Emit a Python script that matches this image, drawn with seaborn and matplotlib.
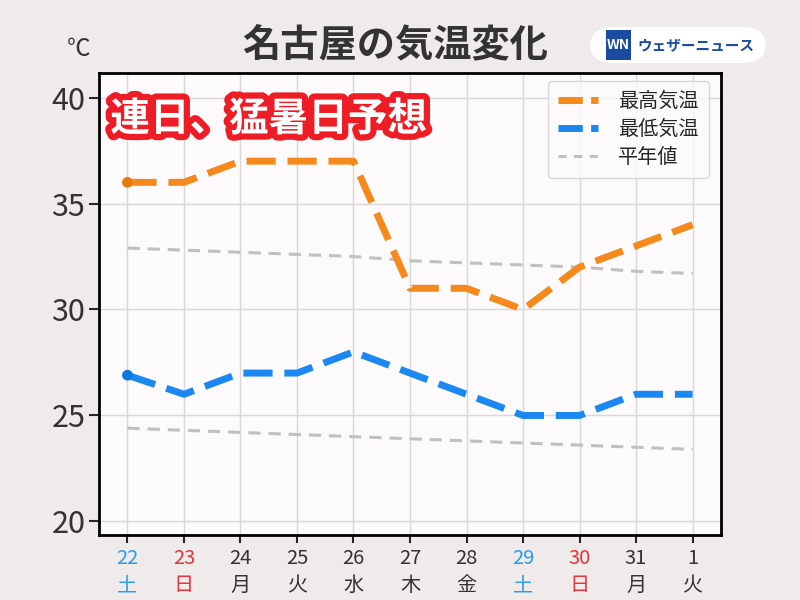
import numpy as np
import pandas as pd
import seaborn as sns
from matplotlib import pyplot as plt
from matplotlib.patches import FancyBboxPatch
from matplotlib.ticker import MultipleLocator
import matplotlib.patheffects as pe

# データ
days = ["22", "23", "24", "25", "26", "27", "28", "29", "30", "31", "1"]
weekdays = ["土", "日", "月", "火", "水", "木", "金", "土", "日", "月", "火"]
max_temp = [36, 36, 37, 37, 37, 31, 31, 30, 32, 33, 34]
min_temp = [26.9, 26, 27, 27, 28, 27, 26, 25, 25, 26, 26]
normal_max = [32.9, 32.8, 32.7, 32.6, 32.5, 32.3, 32.2, 32.1, 32.0, 31.8, 31.7]
normal_min = [24.4, 24.3, 24.2, 24.1, 24.0, 23.9, 23.8, 23.7, 23.6, 23.5, 23.4]

sns.set_style("white")
plt.rcParams['font.family'] = ['Noto Sans CJK JP', 'DejaVu Sans']

df = pd.DataFrame({"pos": np.arange(len(days)), "max": max_temp, "min": min_temp,
                   "nmax": normal_max, "nmin": normal_min})

fig = plt.figure(figsize=(8, 6), dpi=100)
fig.patch.set_facecolor("#eeebea")
ax = fig.add_axes([0.124, 0.108, 0.777, 0.770])
ax.set_facecolor("#fcfafb")

ORANGE = "#f5891c"
BLUE = "#1a88f0"
GRAY = "#c0c0c0"

sns.lineplot(data=df, x="pos", y="nmax", color=GRAY, lw=2.2, ax=ax, label="平年値")
ax.lines[-1].set_dashes((4, 2.6))
sns.lineplot(data=df, x="pos", y="nmin", color=GRAY, lw=2.2, ax=ax)
ax.lines[-1].set_dashes((4, 2.6))
sns.lineplot(data=df, x="pos", y="max", color=ORANGE, lw=5, ax=ax, label="最高気温")
ax.lines[-1].set_dashes((4.2, 1.7))
sns.lineplot(data=df, x="pos", y="min", color=BLUE, lw=5, ax=ax, label="最低気温")
ax.lines[-1].set_dashes((4.2, 1.7))
sns.scatterplot(x=df["pos"][:1], y=df["max"][:1], color="#e67a10", s=60, ax=ax,
                edgecolor="none", zorder=5)
sns.scatterplot(x=df["pos"][:1], y=df["min"][:1], color="#0a78e0", s=60, ax=ax,
                edgecolor="none", zorder=5)

ax.set_xlim(-0.5, 10.5)
ax.set_ylim(19.35, 41.15)
ax.set_xlabel("")
ax.set_ylabel("")
ax.yaxis.set_major_locator(MultipleLocator(5))
ax.yaxis.set_minor_locator(MultipleLocator(1))
ax.set_xticks(df["pos"])
ax.set_xticklabels([d + "\n" + w for d, w in zip(days, weekdays)], linespacing=1.4)
colors = {"土": "#2a9de8", "日": "#e8333a"}
for lbl, w in zip(ax.get_xticklabels(), weekdays):
    lbl.set_color(colors.get(w, "#333333"))
ax.tick_params(axis="x", labelsize=14.5, length=6, width=1.5, direction="out", pad=3)
ax.tick_params(axis="y", which="major", labelsize=22, labelcolor="#333333", length=7,
               width=1.5, direction="out", pad=3)
ax.tick_params(axis="y", which="minor", length=3, width=1, direction="out")
ax.tick_params(left=True, bottom=True)
ax.grid(True, which="major", color="#d8d8d8", lw=1)
for s in ax.spines.values():
    s.set_color("black")
    s.set_linewidth(2)

# 凡例
handles, labels = ax.get_legend_handles_labels()
order = [1, 2, 0]
leg = ax.legend([handles[i] for i in order], [labels[i] for i in order],
                loc="upper right", fontsize=14.5, handlelength=2.0, frameon=True,
                borderpad=0.5, labelspacing=0.35, handletextpad=1.0,
                bbox_to_anchor=(0.997, 1.005))
leg.get_frame().set_edgecolor("#d0d0d0")
leg.get_frame().set_facecolor("#fcfafb")
leg.get_lines()[0].set_dashes((3.5, 1.2))
leg.get_lines()[1].set_dashes((3.5, 1.2))
leg.get_lines()[2].set_dashes((2.7, 2.4))

# タイトルなど
fig.text(0.494, 0.924, "名古屋の気温変化", ha="center", va="center", fontsize=27.5,
         fontweight="bold", color="#333333")
fig.text(0.098, 0.918, "℃", ha="center", va="center", fontsize=17, color="#333333")
ax.text(0.018, 0.9, "連日、猛暑日予想", transform=ax.transAxes, ha="left", va="center",
        fontsize=28.5, fontweight="bold", color="white",
        path_effects=[pe.withStroke(linewidth=9, foreground="#ee1c24")])

# ロゴ
box = FancyBboxPatch((0.738, 0.895), 0.219, 0.060, boxstyle="round,pad=0,rounding_size=0.03",
                     transform=fig.transFigure, facecolor="white", edgecolor="none")
fig.patches.append(box)
fig.patches.append(FancyBboxPatch((0.757, 0.900), 0.032, 0.050, boxstyle="square,pad=0",
                                  transform=fig.transFigure, facecolor="#1b4ba0",
                                  edgecolor="none"))
fig.text(0.773, 0.925, "WN", ha="center", va="center", fontsize=10, fontweight="bold",
         style="italic", color="white")
fig.text(0.797, 0.925, "ウェザーニュース", ha="left", va="center", fontsize=10.5,
         fontweight="bold", color="#1b4ba0")

fig.savefig("out.png", dpi=100, facecolor=fig.get_facecolor())
